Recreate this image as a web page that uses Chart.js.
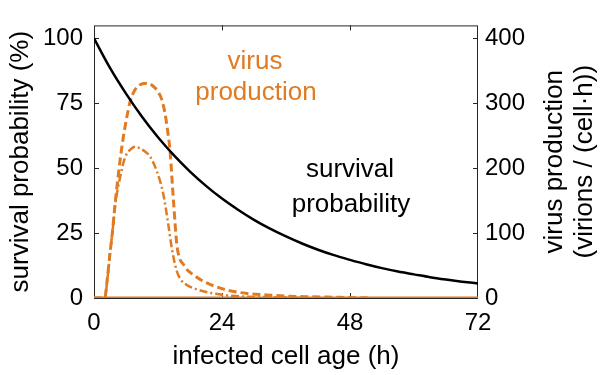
<!DOCTYPE html>
<html>
<head>
<meta charset="utf-8">
<script src="https://cdn.jsdelivr.net/npm/chart.js@4/dist/chart.umd.min.js"></script>
<style>
html, body { margin: 0; padding: 0; background: #fff; }
</style>
</head>
<body>
<canvas id="chart" width="607" height="375"></canvas>
<script>
// x ticks (h) and y ticks
const xTicks = [0, 24, 48, 72];
const leftTicks = [0, 25, 50, 75, 100];
const rightTicks = [0, 100, 200, 300, 400];

// survival probability (%), black line
const survivalAge = [0, 3, 6, 9, 12, 15, 18, 21, 24, 27, 30, 33, 36, 39, 42, 45, 48, 51, 54, 57, 60, 63, 66, 69, 72];
const survivalPct = [100, 88.6, 78.7, 69.8, 61.9, 54.9, 48.7, 43.2, 38.3, 34, 30.1, 26.7, 23.7, 21, 18.6, 16.5, 14.7, 13, 11.5, 10.2, 9.1, 8, 7.1, 6.3, 5.6];

// virus production, dashed curve
const prodAgeA = [0, 2, 2.5, 3, 3.5, 3.9, 4.4, 4.9, 5.5, 6, 6.75, 7.5, 8.5, 9.9, 11, 12, 12.7, 13.3, 13.8, 14.25, 14.9, 15.5, 16, 16.75, 17.5, 18.6, 20, 21.75, 25, 28.7, 32, 36, 40, 46, 52];
const prodA = [0, 0, 30, 69, 105, 141, 178, 213, 248, 272, 302, 318, 328, 331, 327, 318, 306, 285, 258, 227, 150, 85, 62, 52, 43, 36, 28, 21, 12, 7, 5, 3, 2, 1, 0];

// virus production, dash-dot curve
const prodAgeB = [0, 2, 2.5, 3, 3.5, 4, 4.5, 5, 5.5, 6, 7, 7.7, 8.5, 9.5, 10.5, 11.75, 13, 13.9, 14.6, 15.5, 16.3, 17.4, 19, 21.75, 25, 29, 34, 40];
const prodB = [0, 0, 28, 69, 105, 145, 170, 190, 208, 220, 230, 233, 231, 226, 218, 196, 160, 115, 76, 42, 28, 20, 14, 8, 4, 2, 1, 0];

// virus production, solid curve (stays at zero)
const prodAgeC = [0, 72];
const prodC = [0, 0];

const orange = '#E07B22';
const fontFamily = '"Liberation Sans", Arial, sans-serif';

function toPoints(xs, ys) {
    return xs.map((x, i) => ({ x: x, y: ys[i] }));
}

const framePlugin = {
    id: 'frame',
    beforeDatasetsDraw(chart) {
        const ctx = chart.ctx;
        const a = chart.chartArea;
        const xs = chart.scales.x, yl = chart.scales.y, yr = chart.scales.y2;
        ctx.save();
        ctx.strokeStyle = '#262626';
        ctx.lineWidth = 1;
        ctx.strokeRect(a.left + 0.5, a.top + 0.5, a.right - a.left - 1, a.bottom - a.top);
        ctx.beginPath();
        const tl = 5;
        xTicks.slice(1, -1).forEach(v => {
            const px = Math.round(xs.getPixelForValue(v)) + 0.5;
            ctx.moveTo(px, a.bottom); ctx.lineTo(px, a.bottom - tl);
            ctx.moveTo(px, a.top); ctx.lineTo(px, a.top + tl);
        });
        leftTicks.slice(1).forEach(v => {
            const py = Math.round(yl.getPixelForValue(v)) + 0.5;
            ctx.moveTo(a.left, py); ctx.lineTo(a.left + tl, py);
        });
        rightTicks.slice(1).forEach(v => {
            const py = Math.round(yr.getPixelForValue(v)) + 0.5;
            ctx.moveTo(a.right, py); ctx.lineTo(a.right - tl, py);
        });
        ctx.stroke();
        ctx.restore();
    }
};

const textPlugin = {
    id: 'texts',
    afterDraw(chart) {
        const ctx = chart.ctx;
        const a = chart.chartArea;
        const midY = (a.top + a.bottom) / 2;
        ctx.save();
        ctx.font = '26px ' + fontFamily;
        ctx.textAlign = 'center';
        ctx.textBaseline = 'alphabetic';

        ctx.fillStyle = '#000';
        ctx.fillText('infected cell age (h)', (a.left + a.right) / 2, 364);

        // rotated axis titles
        const rotated = (txt, x, y) => {
            ctx.save();
            ctx.translate(x, y);
            ctx.rotate(-Math.PI / 2);
            ctx.fillText(txt, 0, 0);
            ctx.restore();
        };
        rotated('survival probability (%)', 28, midY);
        rotated('virus production', 562, midY);
        rotated('(virions / (cell\u00b7h))', 592, midY);

        // labels inside plot
        ctx.fillText('survival', 350, 177);
        ctx.fillText('probability', 351, 212);
        ctx.fillStyle = orange;
        ctx.fillText('virus', 255, 69);
        ctx.fillText('production', 256, 100);
        ctx.restore();
    }
};

const tickFont = { family: fontFamily, size: 24 };

new Chart(document.getElementById('chart').getContext('2d'), {
    type: 'line',
    data: {
        datasets: [
            {
                label: 'survival probability',
                data: toPoints(survivalAge, survivalPct),
                yAxisID: 'y',
                borderColor: '#000',
                borderWidth: 2.5,
                pointRadius: 0,
                cubicInterpolationMode: 'monotone'
            },
            {
                label: 'virus production A',
                data: toPoints(prodAgeA, prodA),
                yAxisID: 'y2',
                borderColor: orange,
                borderWidth: 3,
                borderDash: [8, 4],
                pointRadius: 0,
                cubicInterpolationMode: 'monotone'
            },
            {
                label: 'virus production B',
                data: toPoints(prodAgeB, prodB),
                yAxisID: 'y2',
                borderColor: orange,
                borderWidth: 2.5,
                borderDash: [8, 3, 2, 3],
                pointRadius: 0,
                cubicInterpolationMode: 'monotone'
            },
            {
                label: 'virus production C',
                data: toPoints(prodAgeC, prodC),
                yAxisID: 'y2',
                borderColor: orange,
                borderWidth: 3,
                pointRadius: 0
            }
        ]
    },
    options: {
        responsive: false,
        animation: false,
        devicePixelRatio: 1,
        layout: { padding: { top: 6, left: 0, right: 0, bottom: 0 } },
        plugins: {
            legend: { display: false },
            tooltip: { enabled: false }
        },
        scales: {
            x: {
                type: 'linear',
                min: 0,
                max: 72,
                afterBuildTicks: s => { s.ticks = xTicks.map(v => ({ value: v })); },
                afterFit: s => { s.height = 77; },
                grid: { display: false, drawTicks: false },
                border: { display: false },
                ticks: { font: tickFont, color: '#000', padding: 11, maxRotation: 0, autoSkip: false }
            },
            y: {
                position: 'left',
                min: 0,
                max: 105,
                afterBuildTicks: s => { s.ticks = leftTicks.map(v => ({ value: v })); },
                afterFit: s => { s.width = 94; },
                grid: { display: false, drawTicks: false },
                border: { display: false },
                ticks: { font: tickFont, color: '#000', padding: 11 }
            },
            y2: {
                position: 'right',
                min: 0,
                max: 420,
                afterBuildTicks: s => { s.ticks = rightTicks.map(v => ({ value: v })); },
                afterFit: s => { s.width = 129; },
                grid: { display: false, drawTicks: false },
                border: { display: false },
                ticks: { font: tickFont, color: '#000', padding: 7 }
            }
        }
    },
    plugins: [framePlugin, textPlugin]
});
</script>
</body>
</html>
